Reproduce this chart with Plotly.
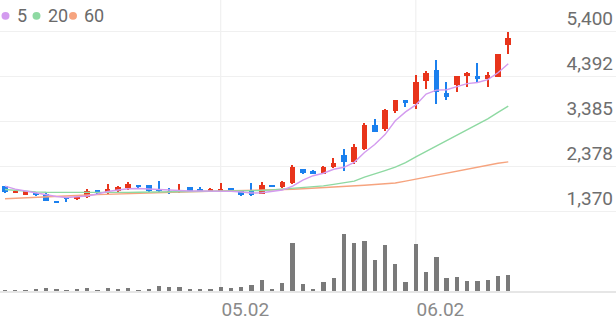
import plotly.graph_objects as go

# ---- data (trading-day index 0..49) ----
opens  = [1946,1797,1753,1791,1769,1607,1680,1658,1702,1857,1813,1842,1901,1974,1974,1879,1842,1813,1923,1879,
          1842,1857,1901,1842,1842,1769,1974,1917,2012,2329,2293,2211,2377,2647,2477,2765,3318,3214,3635,3872,
          3783,4304,4536,4027,4204,4397,4410,4352,4388,5112]
closes = [1813,1842,1842,1746,1620,1569,1658,1702,1835,1813,1886,1917,1990,1917,1828,1828,1813,1864,1842,1842,
          1886,1886,1813,1740,1740,1974,1923,2034,2382,2249,2218,2382,2470,2477,2816,3312,3152,3650,3872,3805,
          4264,4485,4042,3932,4397,4470,4352,4425,4890,5260]
highs  = [1957,1857,1846,1824,1791,1614,1680,1724,1886,1857,1997,1939,2034,1979,1979,2050,1901,1990,1923,1917,
          1895,2012,1901,1846,2012,2034,1979,2063,2417,2333,2300,2388,2577,2769,2891,3358,3436,3673,3880,3880,
          4441,4521,4762,4264,4405,4507,4691,4498,4906,5400]
lows   = [1802,1784,1746,1731,1607,1563,1585,1629,1680,1753,1769,1813,1864,1912,1824,1806,1769,1791,1835,1828,
          1835,1828,1806,1735,1735,1762,1917,1912,1997,2211,2211,2205,2360,2293,2448,2743,3148,3179,3577,3723,
          3679,4120,3790,3872,4056,4153,4264,4153,4388,4906]
ma5    = [1946,1879,1835,1791,1746,1713,1691,1702,1724,1769,1824,1857,1886,1890,1879,1868,1846,1842,1835,1835,
          1835,1835,1828,1813,1791,1797,1824,1857,1946,2078,2178,2233,2322,2366,2477,2698,2876,3097,3407,3606,
          3761,4005,4093,4100,4171,4237,4264,4326,4481,4680]
ma20   = [1868,1846,1828,1817,1808,1806,1806,1806,1806,1806,1806,1806,1806,1808,1810,1813,1815,1820,1824,1824,
          1824,1824,1826,1828,1835,1846,1862,1879,1897,1912,1928,1950,1983,2016,2056,2145,2227,2293,2371,2468,
          2601,2721,2843,2953,3081,3199,3318,3451,3595,3732]
ma60   = [1664,1676,1687,1698,1709,1720,1729,1738,1746,1755,1764,1773,1780,1786,1793,1800,1806,1813,1819,1824,
          1828,1833,1837,1842,1846,1850,1857,1866,1875,1886,1897,1908,1919,1932,1946,1963,1981,2001,2016,2056,
          2101,2149,2200,2245,2289,2333,2377,2422,2455,2488]
volume = [50,50,50,70,90,70,40,80,110,50,100,60,100,50,80,170,120,140,80,80,
          60,130,90,130,200,340,70,260,1450,235,80,290,400,1730,1450,1540,960,1410,830,280,
          1440,580,1040,410,440,300,300,350,470,490]  # thousand shares
price_ticks = [1370, 2378, 3385, 4392, 5400]
date_tick_pos = [21, 40]
date_tick_text = ["05.02", "06.02"]
ma_names = ["5", "20", "60"]

RED = "#e8341b"
BLUE = "#1b80ee"
MA_COLORS = ["#d39bef", "#8ed9a2", "#f6a47f"]
GRID = "#f0f0f0"

x = list(range(len(opens)))
colors = [RED if c >= o else BLUE for o, c in zip(opens, closes)]
body_base = [min(o, c) for o, c in zip(opens, closes)]
body_h = [max(abs(c - o), 28) for o, c in zip(opens, closes)]
wick_h = [h - l for h, l in zip(highs, lows)]

fig = go.Figure()
for vals, col in zip([ma60, ma20, ma5], MA_COLORS[::-1]):
    fig.add_trace(go.Scatter(x=x, y=vals, mode="lines", line=dict(color=col, width=1.4),
                             xaxis="x", yaxis="y", hoverinfo="skip"))
fig.add_trace(go.Bar(x=x, y=wick_h, base=lows, width=0.13, marker=dict(color=colors, line=dict(width=0)),
                     xaxis="x", yaxis="y"))
fig.add_trace(go.Bar(x=x, y=body_h, base=body_base, width=0.54, marker=dict(color=colors, line=dict(width=0)),
                     xaxis="x", yaxis="y"))
fig.add_trace(go.Bar(x=x, y=volume, width=0.42, marker=dict(color="#7a7a7a", line=dict(width=0)),
                     xaxis="x2", yaxis="y2"))

PLOT_H = 294.0
def py(p):
    return (PLOT_H - p) / PLOT_H

xr = [-0.487, 59.49]
fig.update_layout(
    width=616, height=321,
    margin=dict(l=0, r=0, t=0, b=27),
    paper_bgcolor="white", plot_bgcolor="white",
    showlegend=False, barmode="overlay", bargap=0,
    font=dict(family="Roboto", color="#707070"),
    xaxis=dict(domain=[0, 1], range=xr, anchor="y", showgrid=False, zeroline=False,
               showticklabels=False, ticks=""),
    yaxis=dict(domain=[py(222), 1], range=[1193, 6108], side="right", tickvals=price_ticks,
               tickformat=",d", ticklabelposition="inside top", showgrid=True, gridcolor=GRID,
               gridwidth=1, zeroline=False, ticks="", tickfont=dict(size=19, color="#6e6e6e")),
    xaxis2=dict(domain=[0, 1], range=xr, anchor="y2", matches="x", showgrid=False, zeroline=False,
                tickvals=date_tick_pos, ticktext=date_tick_text, ticklabelposition="outside right",
                ticks="", showline=True, linecolor="#e6e6e6", linewidth=1.5,
                tickfont=dict(size=19, color="#8a8a8a")),
    yaxis2=dict(domain=[0, py(228)], range=[0, 1980], showgrid=False, zeroline=False,
                showticklabels=False, ticks=""),
)

for t in date_tick_pos:
    fig.add_shape(type="line", xref="x", yref="paper", x0=t, x1=t, y0=0, y1=1,
                  line=dict(color=GRID, width=1.2), layer="below")

# legend: dots + labels
dot_cx = [5.5, 36.5, 73]
txt_x = [15, 46, 82]
for cx, tx, name, col in zip(dot_cx, txt_x, ma_names, MA_COLORS):
    fig.add_shape(type="circle", xref="paper", yref="paper",
                  x0=(cx - 4) / 616, x1=(cx + 4) / 616, y0=py(20), y1=py(12),
                  fillcolor=col, line=dict(width=0))
    fig.add_annotation(xref="paper", yref="paper", x=tx / 616, y=py(15.5), text=name,
                       showarrow=False, xanchor="left", yanchor="middle",
                       font=dict(size=18, color="#6a6a6a", family="Roboto"))

fig.write_html("out.html")
